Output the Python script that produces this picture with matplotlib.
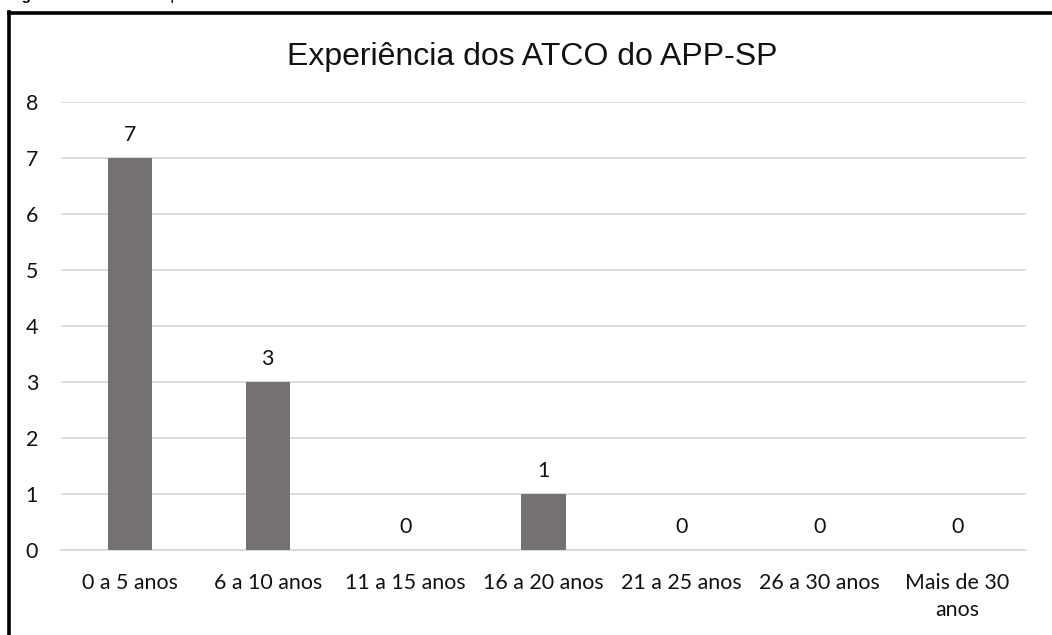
import matplotlib
matplotlib.use("Agg")
import matplotlib.pyplot as plt
from matplotlib.lines import Line2D

categories = ["0 a 5 anos", "6 a 10 anos", "11 a 15 anos", "16 a 20 anos",
              "21 a 25 anos", "26 a 30 anos", "Mais de 30\nanos"]
values = [7, 3, 0, 1, 0, 0, 0]
yticks = [0, 1, 2, 3, 4, 5, 6, 7, 8]
title = "Experiência dos ATCO do APP-SP"

W, H = 1052, 635
fig = plt.figure(figsize=(W / 100, H / 100), dpi=100)
fig.patch.set_facecolor("white")

# axes placement in pixels
left, right, top, bottom = 61, 1026, 102, 550
ax = fig.add_axes([left / W, 1 - bottom / H, (right - left) / W, (bottom - top) / H])

lab_font = "Lato"
fs = 15.4
x = list(range(len(categories)))
ax.bar(x, values, width=0.32, color="#767171", zorder=3)
ax.set_xlim(-0.5, len(categories) - 0.5)
ax.set_ylim(0, 8)
ax.set_yticks(yticks)
ax.set_yticklabels([str(v) for v in yticks], fontsize=fs, fontfamily=lab_font, color="#111111")
ax.set_xticks(x)
ax.set_xticklabels(categories, fontsize=fs, fontfamily=lab_font, color="#111111", linespacing=1.45)
ax.tick_params(axis="y", length=0, pad=16.5)
ax.tick_params(axis="x", length=0, pad=16.5)
ax.grid(axis="y", color="#d9d9d9", linewidth=1.3, zorder=0)
for s in ["top", "right", "left"]:
    ax.spines[s].set_visible(False)
ax.spines["bottom"].set_color("#d9d9d9")
ax.spines["bottom"].set_linewidth(1.3)

for xi, v in zip(x, values):
    ax.annotate(str(v), (xi, v), xytext=(0, 12.5), textcoords="offset points",
                ha="center", va="baseline", fontsize=fs, fontfamily=lab_font, color="#111111")

fig.text(532 / W, 1 - 57 / H, title, ha="center", va="center",
         fontsize=23, fontfamily="Liberation Sans", color="#111111")

# outer frame (partially visible)
fig.add_artist(Line2D([9 / W, 1.0], [1 - 12.5 / H, 1 - 12.5 / H], transform=fig.transFigure,
                      color="black", linewidth=2.6))
fig.add_artist(Line2D([9.5 / W, 9.5 / W], [0, 1 - 11.5 / H], transform=fig.transFigure,
                      color="black", linewidth=2.6))

# caption mostly clipped at top (as in the reference)
fig.text(8 / W, 1 + 0.5 / H, "Figura 6", ha="left", va="baseline", fontsize=11,
         fontweight="bold", fontfamily="Liberation Sans")
fig.text(140 / W, 1 + 0.5 / H, "– Experiência", ha="left", va="baseline", fontsize=11,
         fontfamily="Liberation Sans")

fig.savefig("out.png", dpi=100)
